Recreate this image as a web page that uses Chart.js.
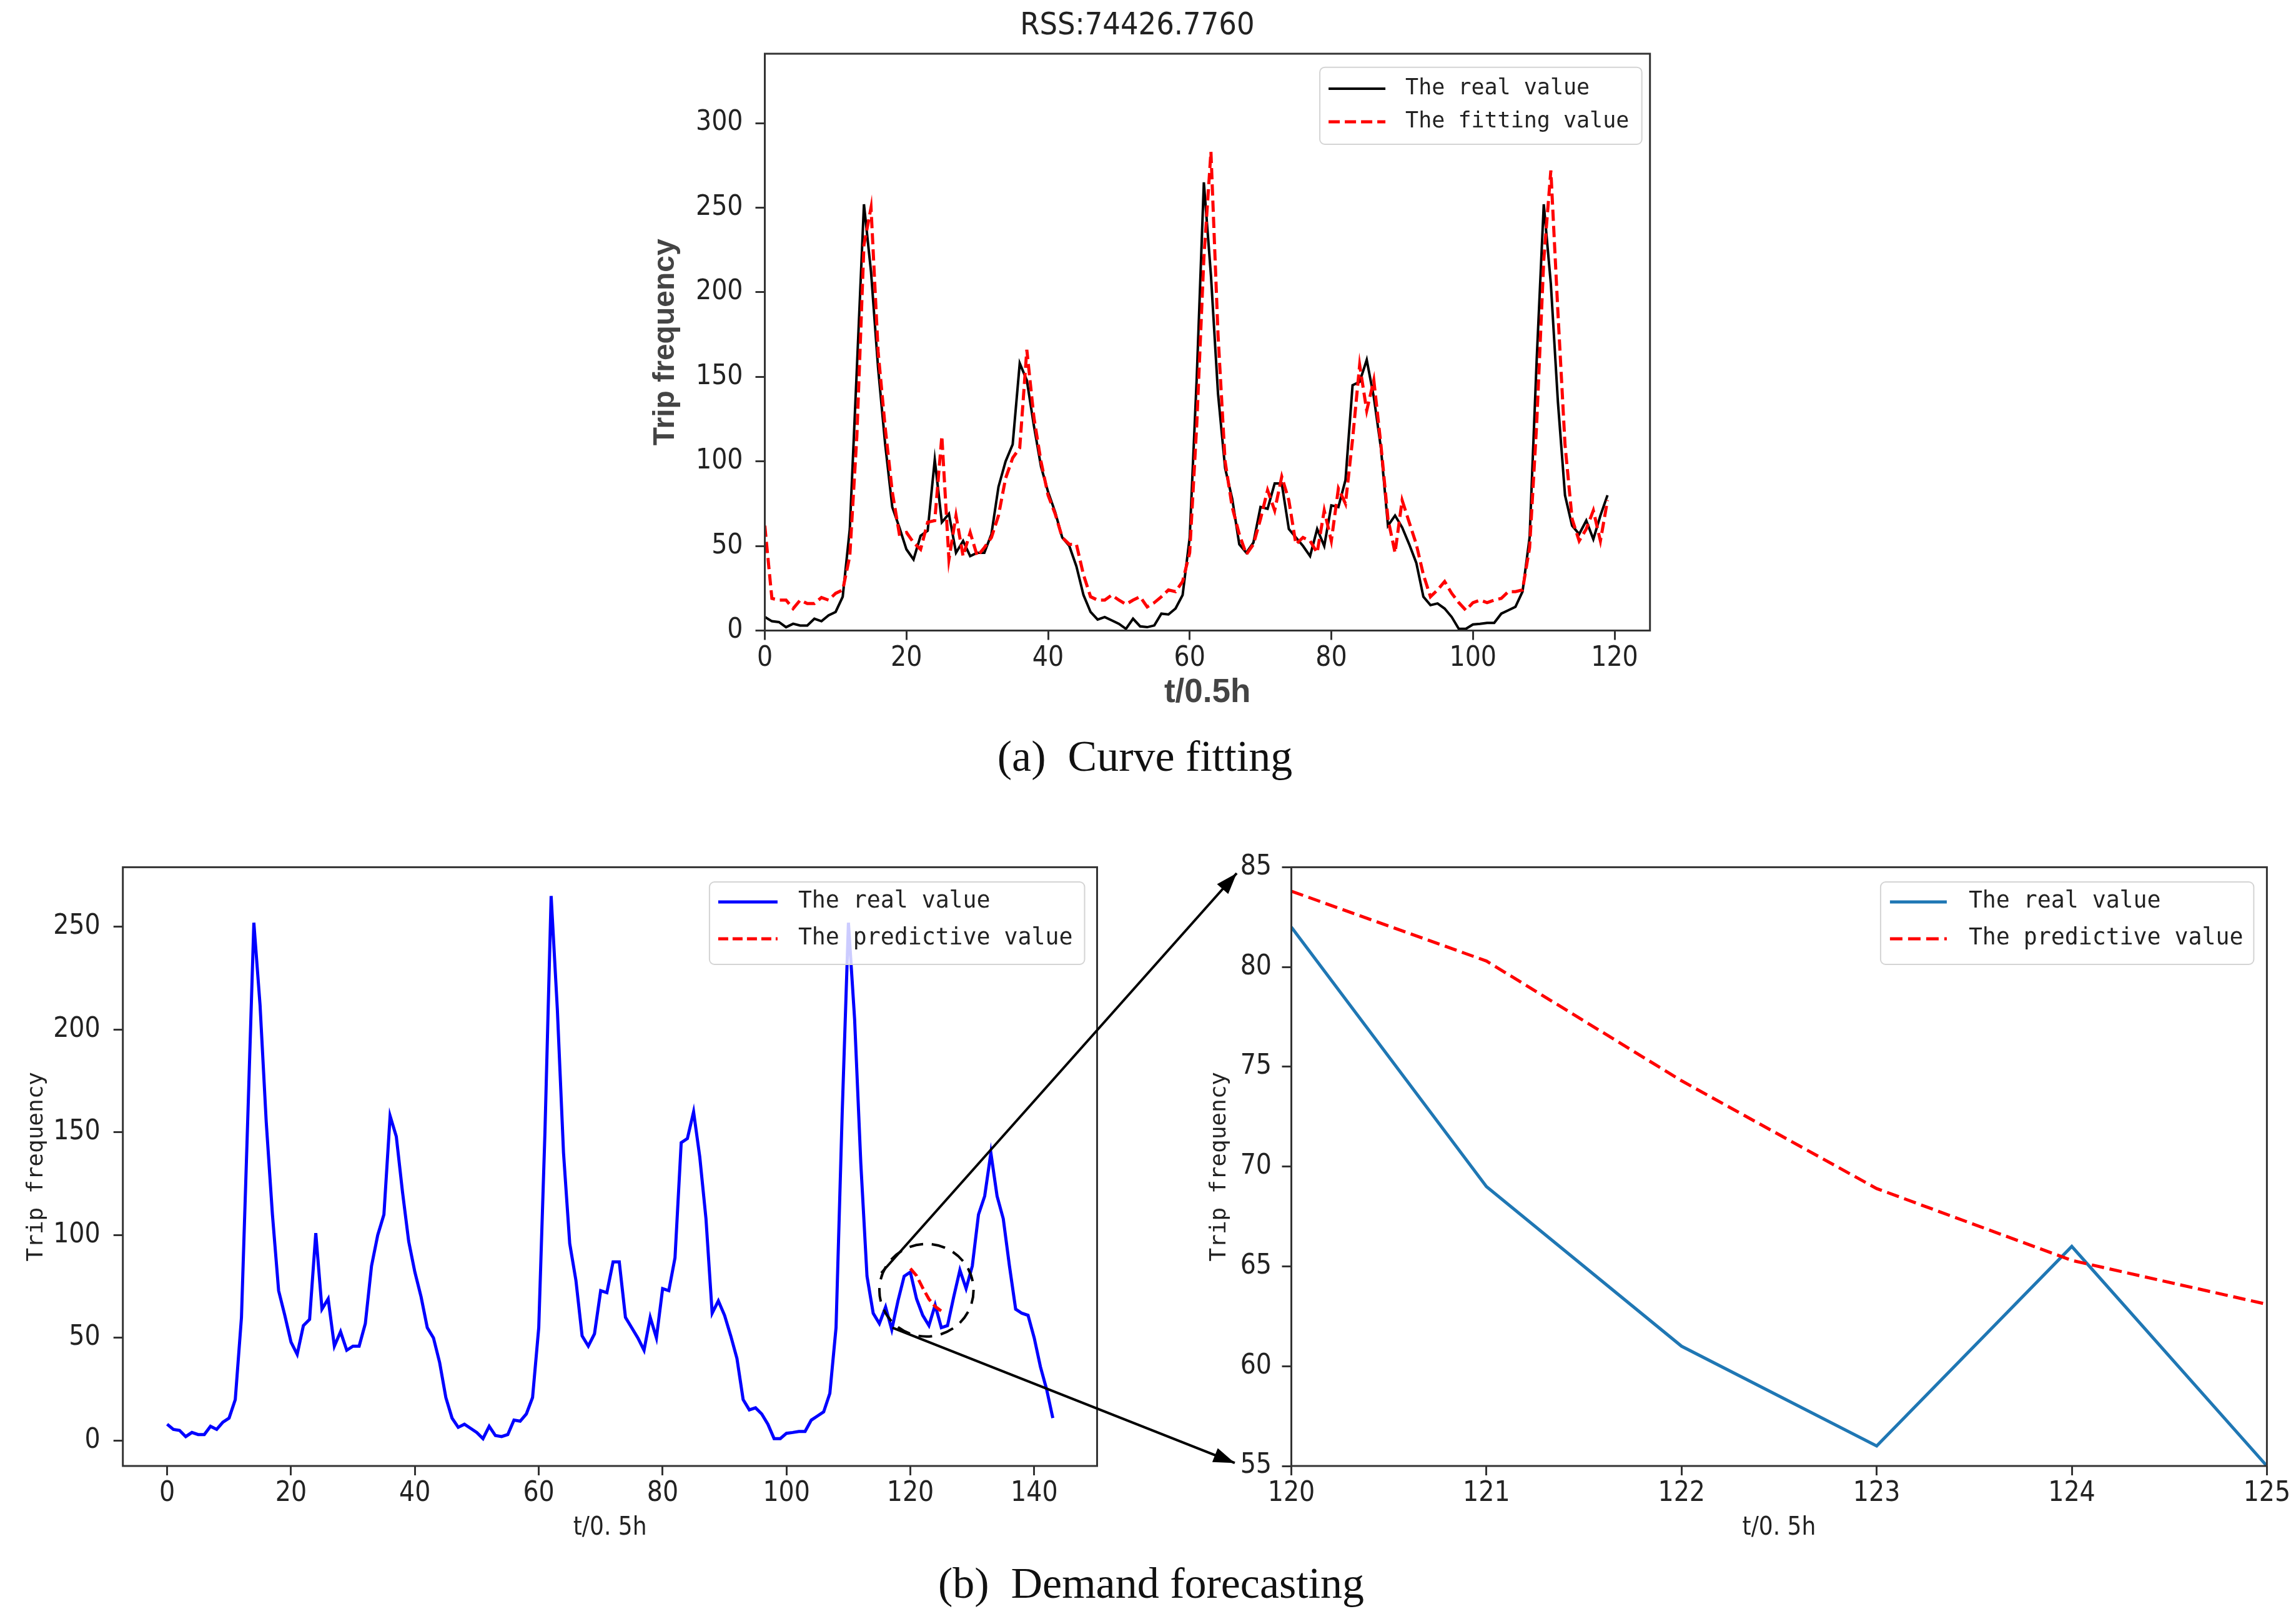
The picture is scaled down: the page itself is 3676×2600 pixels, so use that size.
<!DOCTYPE html>
<html>
<head>
<meta charset="utf-8">
<script src="https://cdn.jsdelivr.net/npm/chart.js@4.4.1/dist/chart.umd.min.js"></script>
<style>
  html, body { margin: 0; padding: 0; background: #fff; }
  body { width: 3676px; height: 2600px; position: relative; overflow: hidden; }
  canvas { position: absolute; }
  .caption {
    position: absolute;
    font-family: 'Liberation Serif', 'DejaVu Serif', serif;
    font-size: 70px;
    line-height: 1;
    color: #111;
    white-space: pre;
    transform: translateX(-50%);
  }
</style>
</head>
<body>
<canvas id="fitCanvas" width="1864" height="1160" style="left:1000px;top:0px"></canvas>
<canvas id="seriesCanvas" width="1800" height="1140" style="left:0px;top:1360px"></canvas>
<canvas id="zoomCanvas" width="1816" height="1140" style="left:1860px;top:1360px"></canvas>
<canvas id="noteCanvas" width="3676" height="2600" style="left:0px;top:0px;pointer-events:none"></canvas>
<div class="caption" style="left:1833px;top:1176px">(a)  Curve fitting</div>
<div class="caption" style="left:1843px;top:2500px">(b)  Demand forecasting</div>

<script>
// trip counts per half hour
const realValue = [
  8, 5.5, 5, 2, 4, 3, 3, 7, 5.5, 9,
  11, 20, 60, 155, 252, 212, 155, 110, 73, 61,
  48, 42, 56, 59, 101, 64, 69, 46, 53, 44,
  46, 46, 57, 85, 100, 110, 158, 148, 121, 97,
  82, 70, 55, 50, 38, 21, 11, 6.5, 8, 6,
  4, 1, 7, 2.5, 2, 3, 10, 9.5, 13, 21,
  55, 150, 265, 210, 140, 96, 78, 51, 46, 52,
  73, 72, 87, 87, 60, 55, 50, 44, 60, 50,
  74, 73, 89, 145, 147, 160, 138, 108, 62, 68,
  61, 51, 40, 20, 15, 16, 13, 8, 1, 1,
  3.6, 4, 4.5, 4.5, 10, 12, 14, 23, 55, 160,
  252, 205, 135, 80, 62, 57, 65, 54, 68, 80,
  82, 69, 61, 56, 66, 55, 56, 70, 83, 74,
  85, 110, 119, 140, 119, 108, 85, 64, 62, 61,
  50, 36, 25, 11
];

const fittingValue = [
  62, 19, 18, 18, 13, 18, 16, 16, 19.5, 18,
  22, 24, 44, 115, 228, 250, 165, 120, 82, 57,
  58, 52, 48, 64, 65, 115, 42, 68, 44, 58,
  44, 49, 55, 68, 90, 102, 108, 166, 126, 100,
  80, 69, 55, 51, 51, 33, 20, 18, 18, 21,
  18, 15.5, 18, 20, 14, 16.5, 20, 24, 23, 29,
  46, 122, 220, 283, 175, 100, 73, 57, 45, 51,
  66, 83, 71, 91, 77, 51, 55, 53, 46, 71,
  53, 84, 75, 113, 157, 130, 148, 110, 66, 46,
  77, 64, 51, 33, 20, 24, 29, 22, 16.5, 12,
  16.5, 18, 16.5, 18, 19, 23, 23, 24, 49, 122,
  219, 272, 188, 110, 66, 53, 60, 71, 53, 77
];

const predictHours = [120, 121, 122, 123, 124, 125];
const predictiveValue = [83.8, 80.3, 74.3, 68.9, 65.3, 63.1];

const fitXTicks = [0, 20, 40, 60, 80, 100, 120];
const fitYTicks = [0, 50, 100, 150, 200, 250, 300];
const seriesXTicks = [0, 20, 40, 60, 80, 100, 120, 140];
const seriesYTicks = [0, 50, 100, 150, 200, 250];
const zoomXTicks = [120, 121, 122, 123, 124, 125];
const zoomYTicks = [55, 60, 65, 70, 75, 80, 85];

// dashed circle around the forecast window (data units of the lower-left panel)
const focusCenter = [122.6, 73.2];
const focusRadius = [7.6, 22.5];

const hours = realValue.map((v, i) => i);
const narrow = "'Liberation Sans Narrow', 'DejaVu Sans Condensed', sans-serif";
const mono = "'DejaVu Sans Mono', monospace";
const sans = "'Liberation Sans', Arial, sans-serif";

function points(xs, ys) {
  return ys.map((v, i) => ({ x: xs[i], y: v }));
}

// frame on all four sides + matplotlib-like legend box
const panelPlugin = {
  id: 'panel',
  afterDraw(chart, args, opts) {
    const ctx = chart.ctx;
    const a = chart.chartArea;
    ctx.save();
    ctx.strokeStyle = '#333';
    ctx.lineWidth = 3;
    ctx.setLineDash([]);
    ctx.strokeRect(a.left, a.top, a.right - a.left, a.bottom - a.top);

    const lg = opts.legend;
    if (lg) {
      const x0 = a.right - lg.right - lg.width;
      const y0 = a.top + lg.top;
      ctx.beginPath();
      ctx.roundRect(x0, y0, lg.width, lg.height, 8);
      ctx.fillStyle = 'rgba(255,255,255,0.8)';
      ctx.fill();
      ctx.strokeStyle = '#d4d4d4';
      ctx.lineWidth = 2;
      ctx.stroke();
      chart.data.datasets.forEach((ds, k) => {
        const y = y0 + lg.rows[k];
        ctx.strokeStyle = ds.borderColor;
        ctx.lineWidth = ds.borderWidth;
        ctx.setLineDash(ds.borderDash || []);
        ctx.beginPath();
        ctx.moveTo(x0 + lg.handle[0], y);
        ctx.lineTo(x0 + lg.handle[1], y);
        ctx.stroke();
        ctx.setLineDash([]);
        ctx.fillStyle = '#222';
        ctx.font = lg.font;
        ctx.textAlign = 'left';
        ctx.textBaseline = 'middle';
        ctx.fillText(ds.label, x0 + lg.textX, y);
      });
    }
    ctx.restore();
  }
};

function axis(min, max, tickList, size, pad, titleText, titleFont, titlePad, color) {
  return {
    type: 'linear',
    min: min,
    max: max,
    afterBuildTicks: s => { s.ticks = tickList.map(v => ({ value: v })); },
    afterFit: s => {
      if (s.isHorizontal()) s.height = size; else s.width = size;
      // plot box is placed by layout padding only
      s.paddingTop = 0; s.paddingBottom = 0; s.paddingLeft = 0; s.paddingRight = 0;
    },
    border: { display: false },
    grid: { drawOnChartArea: false, drawTicks: true, tickLength: 15, color: '#333', lineWidth: 3 },
    ticks: { color: '#222', padding: pad, maxRotation: 0, autoSkip: false,
             font: { family: narrow, size: 44, lineHeight: 1.2 } },
    title: { display: true, text: titleText, color: color, font: titleFont, padding: titlePad }
  };
}

const baseOptions = {
  responsive: false,
  animation: false,
  devicePixelRatio: 1,
  events: []
};

// (a) curve fitting
const fitChart = new Chart(document.getElementById('fitCanvas'), {
  type: 'line',
  data: {
    datasets: [
      { label: 'The real value', data: points(hours, realValue.slice(0, 120)),
        borderColor: '#000000', borderWidth: 4, pointRadius: 0, order: 1 },
      { label: 'The fitting value', data: points(hours, fittingValue),
        borderColor: '#ff0000', borderWidth: 5, borderDash: [18, 8], pointRadius: 0, order: 0 }
    ]
  },
  options: Object.assign({}, baseOptions, {
    layout: { padding: { left: 0, right: 222.3, top: 0, bottom: 0 } },
    plugins: {
      legend: { display: false },
      tooltip: { enabled: false },
      title: { display: true, text: 'RSS:74426.7760', color: '#222',
               font: { family: narrow, size: 50, weight: 'normal', lineHeight: 1.2 },
               padding: { top: 12, bottom: 14 } },
      panel: { legend: { width: 515.6, height: 123.3, right: 13, top: 21.7,
                         handle: [14, 105], textX: 137, rows: [34.3, 87.3],
                         font: "35px 'DejaVu Sans Mono', monospace" } }
    },
    scales: {
      x: axis(0, 125, fitXTicks, 150.5, 4, 't/0.5h',
              { family: sans, size: 53, weight: 'bold', lineHeight: 1.2 }, { top: 0, bottom: 19 }, '#444'),
      y: axis(0, 341, fitYTicks, 224.5, 20, 'Trip frequency',
              { family: sans, size: 48, weight: 'bold', lineHeight: 1.2 }, { top: 37, bottom: 0 }, '#444')
    }
  }),
  plugins: [panelPlugin]
});

// (b) left: full series with forecast
const seriesChart = new Chart(document.getElementById('seriesCanvas'), {
  type: 'line',
  data: {
    datasets: [
      { label: 'The real value', data: points(hours, realValue),
        borderColor: '#0000ff', borderWidth: 5, pointRadius: 0, order: 1 },
      { label: 'The predictive value', data: points(predictHours, predictiveValue),
        borderColor: '#ff0000', borderWidth: 5, borderDash: [16, 7], pointRadius: 0, order: 0 }
    ]
  },
  options: Object.assign({}, baseOptions, {
    layout: { padding: { left: 0, right: 43.5, top: 28.4, bottom: 0 } },
    plugins: {
      legend: { display: false },
      tooltip: { enabled: false },
      panel: { legend: { width: 600.6, height: 132, right: 20, top: 23.6,
                         handle: [14, 109], textX: 142, rows: [32, 91],
                         font: "36.5px 'DejaVu Sans Mono', monospace" } }
    },
    scales: {
      x: axis(-7.15, 150.15, seriesXTicks, 153, 3, 't/0. 5h',
              { family: "'DejaVu Sans Condensed', sans-serif", size: 40, lineHeight: 1.2 }, { top: 0, bottom: 29 }, '#222'),
      y: axis(-12.3, 279, seriesYTicks, 196.7, 21, 'Trip frequency',
              { family: mono, size: 36, lineHeight: 1.2 }, { top: 37.4, bottom: 0 }, '#222')
    }
  }),
  plugins: [panelPlugin]
});

// (b) right: zoom on the forecast window
const zoomChart = new Chart(document.getElementById('zoomCanvas'), {
  type: 'line',
  data: {
    datasets: [
      { label: 'The real value', data: points(hours.slice(120, 126), realValue.slice(120, 126)),
        borderColor: '#1f77b4', borderWidth: 5, pointRadius: 0, order: 1 },
      { label: 'The predictive value', data: points(predictHours, predictiveValue),
        borderColor: '#ff0000', borderWidth: 5, borderDash: [20, 9], pointRadius: 0, order: 0 }
    ]
  },
  options: Object.assign({}, baseOptions, {
    layout: { padding: { left: 0, right: 46.6, top: 28.4, bottom: 0 } },
    plugins: {
      legend: { display: false },
      tooltip: { enabled: false },
      panel: { legend: { width: 597.5, height: 132, right: 21, top: 23.6,
                         handle: [15, 106], textX: 141, rows: [32, 91],
                         font: "36.5px 'DejaVu Sans Mono', monospace" } }
    },
    scales: {
      x: axis(120, 125, zoomXTicks, 153, 3, 't/0. 5h',
              { family: "'DejaVu Sans Condensed', sans-serif", size: 40, lineHeight: 1.2 }, { top: 0, bottom: 29 }, '#222'),
      y: axis(55, 85, zoomYTicks, 207.5, 16.5, 'Trip frequency',
              { family: mono, size: 36, lineHeight: 1.2 }, { top: 71.4, bottom: 0 }, '#222')
    }
  }),
  plugins: [panelPlugin]
});

// circle + connector arrows, placed through the charts' own scales
function pagePoint(chart, x, y) {
  const c = chart.canvas;
  return [c.offsetLeft + chart.scales.x.getPixelForValue(x),
          c.offsetTop + chart.scales.y.getPixelForValue(y)];
}

function arrow(ctx, from, to) {
  ctx.beginPath();
  ctx.moveTo(from[0], from[1]);
  ctx.lineTo(to[0], to[1]);
  ctx.stroke();
  const ang = Math.atan2(to[1] - from[1], to[0] - from[0]);
  const len = 34, half = 12;
  ctx.beginPath();
  ctx.moveTo(to[0], to[1]);
  ctx.lineTo(to[0] - len * Math.cos(ang) + half * Math.sin(ang), to[1] - len * Math.sin(ang) - half * Math.cos(ang));
  ctx.lineTo(to[0] - len * Math.cos(ang) - half * Math.sin(ang), to[1] - len * Math.sin(ang) + half * Math.cos(ang));
  ctx.closePath();
  ctx.fill();
}

const note = document.getElementById('noteCanvas').getContext('2d');
const c0 = pagePoint(seriesChart, focusCenter[0], focusCenter[1]);
const c1 = pagePoint(seriesChart, focusCenter[0] + focusRadius[0], focusCenter[1] + focusRadius[1]);
note.strokeStyle = '#000';
note.fillStyle = '#000';
note.lineWidth = 4;
note.setLineDash([22, 14]);
note.beginPath();
note.ellipse(c0[0], c0[1], Math.abs(c1[0] - c0[0]), Math.abs(c1[1] - c0[1]), 0, 0, Math.PI * 2);
note.stroke();
note.setLineDash([]);
arrow(note, pagePoint(seriesChart, 115.3, 81.6), pagePoint(zoomChart, 119.72, 84.7));
arrow(note, pagePoint(seriesChart, 117.1, 55.0), pagePoint(zoomChart, 119.71, 55.15));
</script>
</body>
</html>
